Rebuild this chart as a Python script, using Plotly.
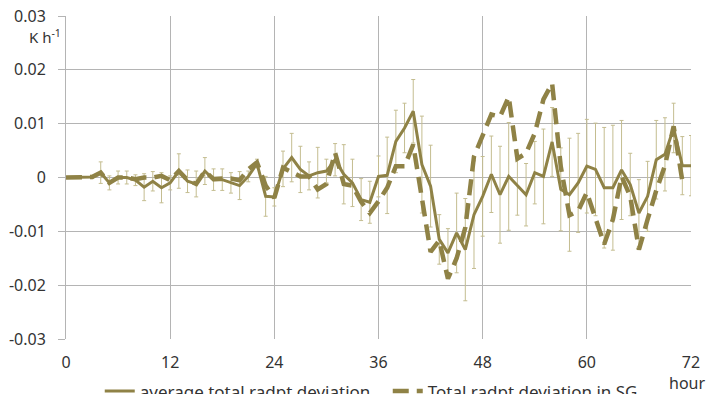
import plotly.graph_objects as go

hours = list(range(73))

avg_dev = [0, 0, 0, 0.0001, 0.0009, -0.001, 0, 0, -0.0005, -0.0018,
           -0.0007, -0.0019, -0.001, 0.0012, -0.0007, -0.0012, 0.0012, -0.0004, -0.0004, -0.001,
           -0.0015, 0.0002, 0.0026, -0.0035, -0.0036, 0.0016, 0.0037, 0.0015, 0.0003, 0.0009,
           0.0012, 0.0033, 0.0006, -0.001, -0.0041, -0.0046, 0.0002, 0.0004, 0.0067, 0.0092,
           0.0123, 0.0024, -0.0016, -0.0115, -0.014, -0.0103, -0.0134, -0.0069, -0.0035, 0.0006,
           -0.0032, 0.0002, -0.0016, -0.0032, 0.0009, 0.0002, 0.0066, -0.0022, -0.0032, -0.001,
           0.0021, 0.0015, -0.0019, -0.0019, 0.0014, -0.0013, -0.0066, -0.0035, 0.0033, 0.0043,
           0.0092, 0.0022, 0.0022]

avg_err = [0, 0, 0, 0.0003, 0.002, 0.0013, 0.0012, 0.0012, 0.001, 0.0025,
           0.0018, 0.0028, 0.0013, 0.0032, 0.0021, 0.0024, 0.0025, 0.002, 0.002, 0.0019,
           0.0026, 0.001, 0.0008, 0.0037, 0.0017, 0.0033, 0.0045, 0.0043, 0.0026, 0.0047,
           0.0022, 0.003, 0.0055, 0.0044, 0.0039, 0.0039, 0.0038, 0.0071, 0.0058, 0.0046,
           0.0059, 0.009, 0.0076, 0.0046, 0.0045, 0.0074, 0.0095, 0.01, 0.0074, 0.0071,
           0.009, 0.01, 0.0054, 0.0058, 0.0058, 0.0088, 0.0064, 0.0077, 0.0105, 0.0092,
           0.0087, 0.0086, 0.0112, 0.0116, 0.0092, 0.0058, 0.0062, 0.0065, 0.0073, 0.0068,
           0.0046, 0.0054, 0.0056]

sg_hours = list(range(72))
sg_dev = [0, 0, 0, 0.0001, 0.0009, -0.001, 0, 0, -0.0003, 0,
          0, 0.0003, -0.0005, 0.0012, -0.0005, -0.0012, 0.0012, -0.0003, -0.0002, -0.0002,
          -0.0005, 0.0015, 0.0028, -0.0015, -0.0038, 0.0018, 0.001, 0.0002, 0.0002, -0.0022,
          -0.0012, 0.0046, -0.0012, -0.0015, -0.0045, -0.0066, -0.0044, -0.0019, 0.0021, 0.0021,
          0.0061, -0.0035, -0.0138, -0.0117, -0.0188, -0.015, -0.0093, 0.0039, 0.0076, 0.0117,
          0.0113, 0.015, 0.0035, 0.0045, 0.0082, 0.0145, 0.0175, 0.002, -0.007, -0.0062,
          -0.0028, -0.0074, -0.0124, -0.0078, 0.0002, -0.0035, -0.0134, -0.0078, -0.0024, 0.0022,
          0.0095, -0.0006]

x_ticks = [0, 12, 24, 36, 48, 60, 72]
x_tick_text = ["0", "12", "24", "36", "48", "60", "72"]
y_ticks = [-0.03, -0.02, -0.01, 0, 0.01, 0.02, 0.03]
y_tick_text = ["-0.03", "-0.02", "-0.01", "0", "0.01", "0.02", "0.03"]

line_color = "#8f8246"
err_color = "#c4bd90"
grid_color = "#b4b4b4"
font_family = "Noto Sans, Open Sans, sans-serif"

fig = go.Figure()
fig.add_trace(go.Scatter(
    x=hours, y=avg_dev, mode="lines", name="average total radpt deviation",
    line=dict(color=line_color, width=3),
    error_y=dict(type="data", array=avg_err, symmetric=True, color=err_color,
                 thickness=1, width=2),
))
fig.add_trace(go.Scatter(
    x=sg_hours, y=sg_dev, mode="lines", name="Total radpt deviation in SG",
    line=dict(color=line_color, width=4.5, dash="16px,8px"),
))

fig.update_layout(
    width=712, height=394,
    margin=dict(l=66, r=21, t=16, b=55, autoexpand=False),
    paper_bgcolor="white", plot_bgcolor="white",
    font=dict(family=font_family, size=16, color="#333333"),
    showlegend=True,
    legend=dict(orientation="h", x=0.054, xanchor="left", y=-0.162, yanchor="middle",
                font=dict(size=17, color="#333333"), entrywidth=243,
                entrywidthmode="pixels", bgcolor="rgba(0,0,0,0)"),
    xaxis=dict(range=[0, 72], tickvals=x_ticks, ticktext=x_tick_text,
               showgrid=True, gridcolor=grid_color, gridwidth=1,
               zeroline=False, showline=False, ticks="", ticklabelstandoff=12),
    yaxis=dict(range=[-0.03, 0.03], tickvals=y_ticks, ticktext=y_tick_text,
               showgrid=True, gridcolor=grid_color, gridwidth=1,
               zeroline=False, showline=True, linecolor=grid_color, linewidth=1,
               ticks="outside", ticklen=7, tickcolor=grid_color, ticklabelstandoff=9),
    annotations=[
        dict(text="K h<sup>-1</sup>", xref="paper", yref="paper", x=-0.005, y=0.935,
             xanchor="right", yanchor="middle", showarrow=False,
             font=dict(size=15, color="#333333")),
        dict(text="hour", xref="paper", yref="paper", x=0.994, y=-0.136,
             xanchor="center", yanchor="middle", showarrow=False,
             font=dict(size=16, color="#333333")),
    ],
)

fig.write_html("out.html", config={"displayModeBar": False},
               post_script="document.body.style.margin='0px';document.body.style.overflow='hidden';")
